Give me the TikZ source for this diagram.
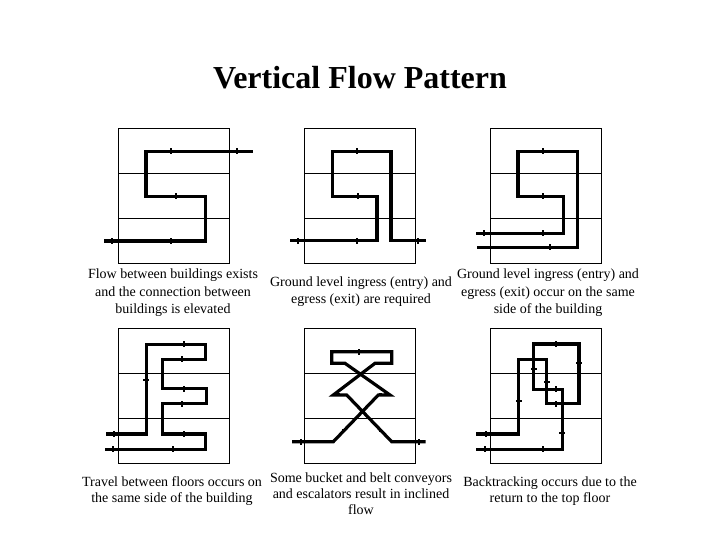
\documentclass[tikz,border=0pt]{standalone}
\usepackage{fontspec}
\setmainfont{Liberation Serif}
\usetikzlibrary{calc}

% small flow marks on the thick routes
\newcommand\markh[2]{\fill (#1-0.9,#2-3) rectangle (#1+0.9,#2+3);}
\newcommand\markv[2]{\fill (#1-3,#2-0.9) rectangle (#1+3,#2+0.9);}
\newcommand\markd[2]{\fill (#1-1.5,#2-1.5) rectangle (#1+1.5,#2+1.5);}

\tikzset{
  building/.style={line width=0.8pt},
  route/.style={line width=3.2pt},
  caption/.style={align=center, font=\fontsize{14}{17.5}\selectfont, inner sep=0pt},
  captiontwo/.style={align=center, font=\fontsize{14}{16}\selectfont, inner sep=0pt}
}

\begin{document}
\begin{tikzpicture}[x=1pt, y=-1pt]
  \useasboundingbox (0,0) rectangle (720,540);

  %--- title ----------------------------------------------------------------
  \node[font=\fontsize{32}{36}\selectfont\bfseries] (title) at (360,78) {Vertical Flow Pattern};

  %--- buildings: three floors each ---------------------------------------
  \foreach \bx/\by in {118.3/128.3, 304.3/128.3, 490.7/128.3,
                       118.3/328.3, 304.3/328.3, 490.7/328.3} {
    \draw[building] (\bx,\by) rectangle (\bx+110.7,\by+135);
    \draw[building] (\bx,\by+45) -- (\bx+110.7,\by+45);
    \draw[building] (\bx,\by+90) -- (\bx+110.7,\by+90);
  }

  %--- panel 1: elevated connection ---------------------------------------
  \draw[route] (252.7,151.3) -- (146,151.3) -- (146,196.3) -- (205.7,196.3)
    -- (205.7,241) -- (104,241);
  \markh{237.3}{151.3} \markh{171}{151.3} \markh{176}{196.3}
  \markh{171}{241} \markh{112.3}{241}

  %--- panel 2: ground in, ground out --------------------------------------
  \draw[route] (290,240.7) -- (377,240.7) -- (377,196.3) -- (332.3,196.3)
    -- (332.3,151.3) -- (391,151.3) -- (391,240.7) -- (425.7,240.7);
  \markh{298.3}{240.7} \markh{357}{240.7} \markh{357.7}{196.3}
  \markh{357}{151.3} \markh{417.7}{240.7}

  %--- panel 3: in and out on the same side --------------------------------
  \draw[route] (476,233.3) -- (563.7,233.3) -- (563.7,196.3) -- (518,196.3)
    -- (518,151.3) -- (577.7,151.3) -- (577.7,247.3) -- (476.7,247.3);
  \markh{484}{233.3} \markh{543.3}{233.3} \markh{543.3}{196.3}
  \markh{543.3}{151.3} \markh{550}{247.3}

  %--- panel 4: same side travel ------------------------------------------
  \draw[route] (106,434) -- (146.3,434) -- (146.3,344.3) -- (205.7,344.3)
    -- (205.7,359.3) -- (162.3,359.3) -- (162.3,388.7) -- (206.7,388.7)
    -- (206.7,403.7) -- (162.3,403.7) -- (162.3,434) -- (205.7,434)
    -- (205.7,449.3) -- (105,449.3);
  \markh{114}{434} \markv{146.3}{380} \markh{184}{344.3} \markh{182.3}{359.3}
  \markh{184}{388.7} \markh{182.3}{403.7} \markh{184}{434}
  \markh{172.7}{449.3} \markh{113.3}{449.3}

  %--- panel 5: inclined flow ---------------------------------------------
  \draw[route] (292,441.7) -- (333.3,441.7) -- (378.3,395) -- (390,395)
    -- (345,363.3) -- (331.7,363.3) -- (331.7,351.7) -- (391.7,351.7)
    -- (391.7,363.3) -- (375,363.3) -- (333.3,395) -- (346.7,395)
    -- (391.7,441.7) -- (425.7,441.7);
  \markh{300.7}{441.7} \markh{359}{351.7} \markh{419.3}{441.7}
  \markd{343.3}{430} \markd{380}{430} \markd{380}{394} \markd{338}{394}

  %--- panel 6: backtracking ----------------------------------------------
  \draw[route] (476,434) -- (518.7,434) -- (518.7,359.3) -- (546.7,359.3)
    -- (546.7,403.7) -- (579,403.7) -- (579,344) -- (533.7,344)
    -- (533.7,389.3) -- (562.3,389.3) -- (562.3,449.3) -- (476,449.3);
  \markh{486}{434} \markh{556.3}{344} \markh{555.7}{389.3} \markh{555.7}{403.7}
  \markh{543.3}{449.3} \markh{485}{449.3}
  \markv{518.7}{401} \markv{533.7}{369.3} \markv{546.7}{382.3}
  \markv{579}{362.7} \markv{562.3}{432.7}

  %--- captions -------------------------------------------------------------
  \node[caption] (cap1) at (173,293) {Flow between buildings exists\\and the connection between\\buildings is elevated};
  \node[caption] (cap2) at (361,291.5) {Ground level ingress (entry) and\\egress (exit) are required};
  \node[caption] (cap3) at (548,293) {Ground level ingress (entry) and\\egress (exit) occur on the same\\side of the building};
  \node[captiontwo] (cap4) at (172,491) {Travel between floors occurs on\\the same side of the building};
  \node[captiontwo] (cap5) at (361,494) {Some bucket and belt conveyors\\and escalators result in inclined\\flow};
  \node[captiontwo] (cap6) at (550,491) {Backtracking occurs due to the\\return to the top floor};
\end{tikzpicture}
\end{document}
